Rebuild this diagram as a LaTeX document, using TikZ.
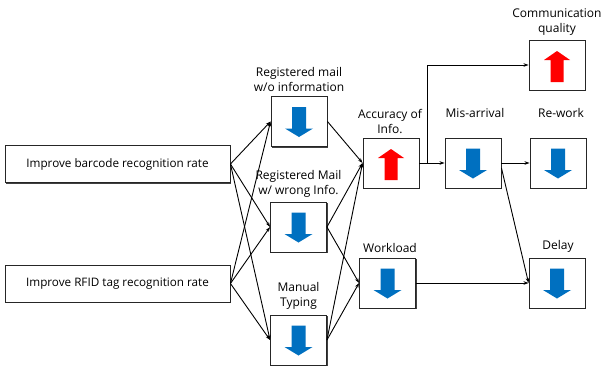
\documentclass[tikz,border=0pt]{standalone}
\usepackage{fontspec}
\setmainfont{Open Sans}
\usetikzlibrary{arrows.meta,shadows}
\definecolor{arrblue}{HTML}{0070C0}
\definecolor{arrred}{HTML}{FF0000}
\newcommand\dnarrow[1]{\fill[arrblue, shift={(#1.center)}] (-7pt,14.5pt) -- (7pt,14.5pt) -- (7pt,-7pt) -- (14pt,-7pt) -- (0pt,-15.5pt) -- (-14pt,-7pt) -- (-7pt,-7pt) -- cycle;}
\newcommand\uparr[1]{\fill[arrred, shift={(#1.center)}] (-6.5pt,-17pt) -- (6.5pt,-17pt) -- (6.5pt,5pt) -- (13pt,5pt) -- (0pt,14pt) -- (-13pt,5pt) -- (-6.5pt,5pt) -- cycle;}
\begin{document}
\begin{tikzpicture}[x=1pt,y=-1pt,
  box/.style={draw=black!85, line width=0.9pt, fill=white, minimum width=56pt, minimum height=50pt, inner sep=0pt,
    drop shadow={shadow xshift=1.2pt, shadow yshift=-1.2pt, fill=black!75, opacity=1}},
  bigbox/.style={box, minimum width=225pt, minimum height=37pt, font=\fontsize{11.7}{13}\selectfont},
  lbl/.style={align=center, font=\fontsize{12}{15}\selectfont, inner sep=0pt},
  conn/.style={-{Stealth[length=5pt,width=3.5pt]}, line width=0.9pt}]
\useasboundingbox (0,0) rectangle (603,367);
% nodes
\node[bigbox] (bar) at (117.5,164) {Improve barcode recognition rate};
\node[bigbox] (rfid) at (117.5,283.5) {Improve RFID tag recognition rate};
\node[box] (wo) at (299,121.5) {};
\node[box] (wrong) at (298.5,227) {};
\node[box] (man) at (298.5,340) {};
\node[box] (acc) at (391,163) {};
\node[box] (work) at (387.5,283) {};
\node[box] (comm) at (557,65) {};
\node[box] (mis) at (473,163) {};
\node[box] (rew) at (558,163) {};
\node[box] (delay) at (557,283) {};
% symbols
\dnarrow{wo}
\dnarrow{wrong}
\dnarrow{man}
\uparr{acc}
\dnarrow{work}
\uparr{comm}
\dnarrow{mis}
\dnarrow{rew}
\dnarrow{delay}
% labels
\node[lbl, anchor=south] (lwo) at (299,92) {Registered mail\\w/o information};
\node[lbl, anchor=south] (lwrong) at (298.5,198) {Registered Mail\\w/ wrong Info.};
\node[lbl, anchor=south] (lman) at (298.5,310) {Manual\\Typing};
\node[lbl, anchor=south] (lacc) at (390,134) {Accuracy of\\Info.};
\node[lbl, anchor=south] (lwork) at (390,253) {Workload};
\node[lbl, anchor=south] (lcomm) at (557,36) {Communication\\quality};
\node[lbl] (lmis) at (475,113) {Mis-arrival};
\node[lbl] (lrew) at (561,113) {Re-work};
\node[lbl, anchor=south] (ldelay) at (558,253) {Delay};
% connectors
\foreach \s in {bar,rfid}{
  \foreach \t in {wo,wrong,man}{
    \draw[conn] (\s.east) -- (\t.west);
  }
}
\foreach \s in {wo,wrong,man}{
  \draw[conn] (\s.east) -- (acc.west);
}
\draw[conn] (wrong.east) -- (work.west);
\draw[conn] (man.east) -- (work.west);
\draw[conn] (acc.east) -- (mis.west);
\draw[conn] (acc.east) -- ++(8pt,0pt) |- (comm.west);
\draw[conn] (mis.east) -- (rew.west);
\draw[conn] (mis.-10) -- (delay.west);
\draw[conn] (work.east) -- (delay.west);
\end{tikzpicture}
\end{document}
